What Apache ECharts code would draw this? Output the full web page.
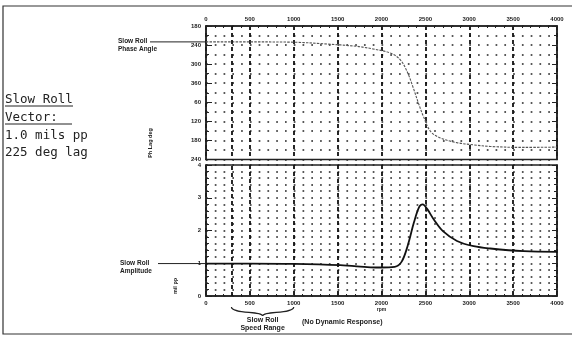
<!DOCTYPE html>
<html>
<head>
<meta charset="utf-8">
<script src="https://cdn.jsdelivr.net/npm/echarts@6.0.0/dist/echarts.min.js"></script>
<style>
html, body { margin: 0; padding: 0; background: #fff; }
#main { width: 585px; height: 337px; }
</style>
</head>
<body>
<div id="main"></div>
<script>
// phase lag (deg, unwrapped past 360) vs speed
var phaseRpm = [0, 500, 1000, 1340, 1720, 1900, 2100, 2210, 2290, 2360, 2420, 2480, 2560, 2670, 2860, 3050, 3240, 3620, 4000];
var phaseLag = [230, 230, 231, 236, 244, 252, 265, 285, 322, 373, 422, 466, 512, 532, 547, 554, 559, 562, 561];
// amplitude (mil pp) vs speed
var ampRpm = [0, 500, 1000, 1530, 1990, 2150, 2230, 2300, 2370, 2430, 2470, 2520, 2600, 2700, 2860, 3050, 3240, 3620, 4000];
var ampMils = [0.99, 0.99, 0.98, 0.94, 0.87, 0.89, 1.05, 1.55, 2.25, 2.72, 2.8, 2.66, 2.32, 1.98, 1.68, 1.52, 1.45, 1.37, 1.35];
var phaseTickLabels = ['180', '240', '300', '360', '60', '120', '180', '240'];
var slowRollRange = [290, 1000];
var vectorText = ['Slow Roll', 'Vector:', '1.0 mils pp', '225 deg lag'];

var ink = '#222';
var small = { fontSize: 6, fontWeight: 'bold', color: ink, fontFamily: 'Liberation Sans' };

function pairs(xs, ys) {
    return xs.map(function (x, i) { return [x, ys[i]]; });
}

var dots = { show: true, lineStyle: { color: ink, width: 1.7, type: [1.7, 7.075], cap: 'butt' } };
var majorV = { show: true, lineStyle: { color: '#111', width: 1.8, type: [4, 3] } };

function xAx(grid, pos) {
    return {
        type: 'value', gridIndex: grid, position: pos, min: 0, max: 4000, interval: 500,
        axisLine: { lineStyle: { color: ink, width: 1.5 } },
        axisTick: { inside: true, length: 4, lineStyle: { color: ink } },
        minorTick: { show: true, splitNumber: 5, length: 2, lineStyle: { color: ink } },
        axisLabel: Object.assign({ margin: 4, formatter: function (v) { return String(v); } }, small),
        splitLine: majorV
    };
}

var myChart = echarts.init(document.getElementById('main'));

var option = {
    animation: false,
    backgroundColor: '#fff',
    grid: [
        { left: 206, top: 26, width: 351, height: 133.5, show: true, borderColor: ink, borderWidth: 1.5 },
        { left: 206, top: 165, width: 351, height: 131, show: true, borderColor: ink, borderWidth: 1.5 }
    ],
    xAxis: [
        xAx(0, 'top'),
        Object.assign(xAx(1, 'bottom'), {
            name: 'rpm', nameLocation: 'middle', nameGap: 11,
            nameTextStyle: { fontSize: 5, fontWeight: 'bold', color: ink }
        })
    ],
    yAxis: [
        {
            type: 'value', gridIndex: 0, min: 180, max: 600, interval: 60, inverse: true,
            axisLine: { show: true, lineStyle: { color: ink, width: 1.5 } },
            axisTick: { show: true, inside: true, length: 6, lineStyle: { color: ink } },
            minorTick: { show: true, splitNumber: 2, length: 3, lineStyle: { color: ink } },
            axisLabel: Object.assign({ margin: 5, formatter: function (v) {
                return phaseTickLabels[Math.round((v - 180) / 60)];
            } }, small),
            splitLine: dots, minorSplitLine: dots
        },
        {
            type: 'value', gridIndex: 1, min: 0, max: 4, interval: 1,
            axisLine: { show: true, lineStyle: { color: ink, width: 1.5 } },
            axisTick: { show: true, inside: true, length: 6, lineStyle: { color: ink } },
            minorTick: { show: true, splitNumber: 5, length: 3, lineStyle: { color: ink } },
            axisLabel: Object.assign({ margin: 5 }, small),
            splitLine: dots, minorSplitLine: dots
        },
        {
            type: 'value', gridIndex: 0, position: 'right', min: 180, max: 600, interval: 60, inverse: true,
            axisLine: { show: true, lineStyle: { color: ink, width: 1.5 } },
            axisTick: { show: true, inside: true, length: 5, lineStyle: { color: ink } },
            minorTick: { show: true, splitNumber: 2, length: 3, lineStyle: { color: ink } },
            axisLabel: { show: false }, splitLine: { show: false }
        },
        {
            type: 'value', gridIndex: 1, position: 'right', min: 0, max: 4, interval: 1,
            axisLine: { show: true, lineStyle: { color: ink, width: 1.5 } },
            axisTick: { show: true, inside: true, length: 5, lineStyle: { color: ink } },
            minorTick: { show: true, splitNumber: 5, length: 3, lineStyle: { color: ink } },
            axisLabel: { show: false }, splitLine: { show: false }
        }
    ],
    series: [
        {
            name: 'Phase', type: 'line', xAxisIndex: 0, yAxisIndex: 0,
            data: pairs(phaseRpm, phaseLag), showSymbol: false,
            smooth: 0.35,
            lineStyle: { color: '#555', width: 1.1, type: [2.5, 1.2] },
            markLine: {
                silent: true, symbol: 'none', label: { show: false },
                lineStyle: { color: '#111', width: 1.8, type: [4, 3] },
                data: [{ xAxis: slowRollRange[0] }]
            }
        },
        {
            name: 'Amplitude', type: 'line', xAxisIndex: 1, yAxisIndex: 1,
            data: pairs(ampRpm, ampMils), showSymbol: false,
            smooth: 0.35,
            lineStyle: { color: '#111', width: 1.8 },
            markLine: {
                silent: true, symbol: 'none', label: { show: false },
                lineStyle: { color: '#111', width: 1.8, type: [4, 3] },
                data: [{ xAxis: slowRollRange[0] }]
            }
        }
    ]
};
myChart.setOption(option);

// annotations positioned from the axes
var yPhase = myChart.convertToPixel({ yAxisIndex: 0 }, phaseLag[0]);
var yAmp = myChart.convertToPixel({ yAxisIndex: 1 }, ampMils[0]);
var xa = myChart.convertToPixel({ xAxisIndex: 1 }, slowRollRange[0]);
var xb = myChart.convertToPixel({ xAxisIndex: 1 }, slowRollRange[1]);
var xm = (xa + xb) / 2;
var noteFont = 'bold 6.5px "Liberation Sans"';
var bigFont = '12.5px "DejaVu Sans Mono"';

var graphics = [
    { type: 'polyline', shape: { points: [[572, 6], [3, 6], [3, 334], [572, 334]] },
      style: { stroke: '#333', lineWidth: 1.2, fill: null } },
    { type: 'line', shape: { x1: 150, y1: yPhase, x2: 206, y2: yPhase }, style: { stroke: ink, lineWidth: 1 } },
    { type: 'text', x: 118, y: yPhase - 1, style: { text: 'Slow Roll', font: noteFont, fill: ink, textVerticalAlign: 'middle' } },
    { type: 'text', x: 118, y: yPhase + 7, style: { text: 'Phase Angle', font: noteFont, fill: ink, textVerticalAlign: 'middle' } },
    { type: 'line', shape: { x1: 158, y1: yAmp, x2: 206, y2: yAmp }, style: { stroke: ink, lineWidth: 1 } },
    { type: 'text', x: 120, y: yAmp, style: { text: 'Slow Roll', font: noteFont, fill: ink, textVerticalAlign: 'middle' } },
    { type: 'text', x: 120, y: yAmp + 8, style: { text: 'Amplitude', font: noteFont, fill: ink, textVerticalAlign: 'middle' } },
    { type: 'text', x: 150, y: 143, rotation: Math.PI / 2,
      style: { text: 'Ph Lag deg', font: 'bold 5.5px "Liberation Sans"', fill: ink, textAlign: 'center', textVerticalAlign: 'middle' } },
    { type: 'text', x: 175, y: 286, rotation: Math.PI / 2,
      style: { text: 'mil pp', font: 'bold 5.5px "Liberation Sans"', fill: ink, textAlign: 'center', textVerticalAlign: 'middle' } },
    { type: 'bezierCurve', shape: { x1: xa, y1: 307, cpx1: xa, cpy1: 314, cpx2: xm, cpy2: 311, x2: xm, y2: 316 },
      style: { stroke: ink, lineWidth: 1.2, fill: null } },
    { type: 'bezierCurve', shape: { x1: xb, y1: 307, cpx1: xb, cpy1: 314, cpx2: xm, cpy2: 311, x2: xm, y2: 316 },
      style: { stroke: ink, lineWidth: 1.2, fill: null } },
    { type: 'text', x: xm, y: 320, style: { text: 'Slow Roll', font: 'bold 7px "Liberation Sans"', fill: ink, textAlign: 'center', textVerticalAlign: 'middle' } },
    { type: 'text', x: xm, y: 328, style: { text: 'Speed Range', font: 'bold 7px "Liberation Sans"', fill: ink, textAlign: 'center', textVerticalAlign: 'middle' } },
    { type: 'text', x: 302, y: 322, style: { text: '(No Dynamic Response)', font: 'bold 7px "Liberation Sans"', fill: ink, textVerticalAlign: 'middle' } }
];

var lineY = [100, 118, 136, 153];
vectorText.forEach(function (t, i) {
    graphics.push({ type: 'text', x: 5, y: lineY[i], style: { text: t, font: bigFont, fill: ink, textVerticalAlign: 'middle' } });
});
graphics.push({ type: 'line', shape: { x1: 5, y1: 106, x2: 73, y2: 106 }, style: { stroke: ink, lineWidth: 1 } });
graphics.push({ type: 'line', shape: { x1: 5, y1: 124, x2: 72, y2: 124 }, style: { stroke: ink, lineWidth: 1 } });

myChart.setOption({ graphic: graphics });
</script>
</body>
</html>
